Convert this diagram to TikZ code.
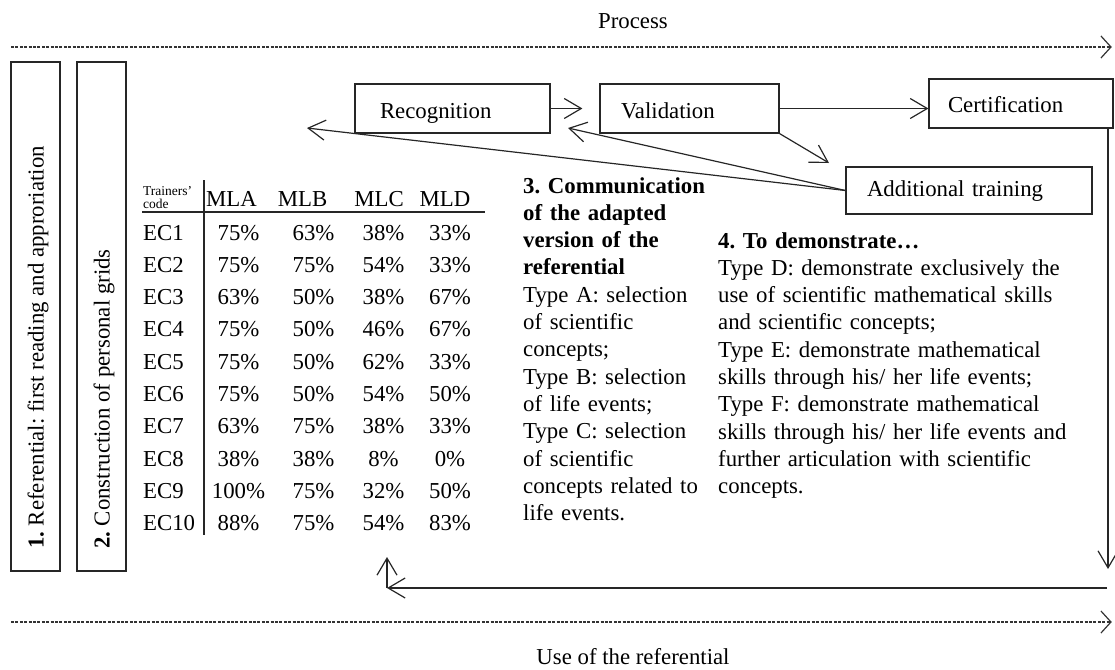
\documentclass[tikz,border=0pt]{standalone}
\usepackage{fontspec}
\setmainfont{Liberation Serif}
\usetikzlibrary{arrows.meta}
\newcommand\mainsz{\fontsize{22.8pt}{27.3pt}\selectfont}
\newcommand\tinysz{\fontsize{13.5pt}{13pt}\selectfont}
\frenchspacing
\begin{document}
\frenchspacing
\begin{tikzpicture}[x=1pt,y=-1pt,
  every node/.style={font=\mainsz, text=black},
  box/.style={draw=black!85, line width=1.2pt, align=left, inner ysep=0pt, text depth=5pt},
  vbox/.style={draw=black!85, line width=1.2pt, inner sep=0pt, minimum width=49pt, minimum height=509pt},
  vtext/.style={rotate=90, anchor=west, inner sep=0pt},
  arr/.style={line width=1.2pt, draw=black!85, -{Straight Barb[length=17pt,width=20pt,line width=1.2pt]}},
  darr/.style={line width=1.2pt, draw=black!80, dash pattern=on 3pt off 1.4pt, -{Straight Barb[length=10pt,width=22pt,line width=1.2pt,sep]}},
  rule/.style={line width=2.5pt, draw=black!85},
  cell/.style={anchor=base, inner sep=0pt},
  para/.style={anchor=base west, inner sep=0pt, align=left}
]
\useasboundingbox (0,0) rectangle (1115,669);

% titles
\node[cell] (proc) at (633,29) {Process};
\node[cell] (use) at (633,664) {Use of the referential};

% dashed process lines
\coordinate (p1) at (11,47);
\coordinate (p2) at (1113,47);
\coordinate (q1) at (11,622);
\coordinate (q2) at (1113,622);
\draw[darr] (p1) -- (p2);
\draw[darr] (q1) -- (q2);

% vertical boxes
\node[vbox] (b1) at (35.5,316.5) {};
\node[vbox] (b2) at (101.5,316.5) {};
\node[vtext] (t1) at (38,549) {\textbf{1.} Referential: first reading and approriation};
\node[vtext] (t2) at (104,549) {\textbf{2.} Construction of personal grids};

% top boxes
\node[box, text width=145pt, inner xsep=25pt, minimum height=49pt, text height=25pt] (rec) at (452.5,108.5) {Recognition};
\node[box, text width=137pt, inner xsep=21pt, minimum height=49pt, text height=25pt] (val) at (689.5,108.5) {Validation};
\node[box, text width=146pt, inner xsep=19pt, minimum height=49pt, text height=22pt] (cert) at (1021,103.5) {Certification};
\node[box, text width=204pt, inner xsep=21pt, minimum height=47pt, text height=16pt] (add) at (969,190.5) {Additional training};

% arrows between boxes
\coordinate (vd) at (829,163);
\coordinate (lt1) at (307,128);
\coordinate (lt2) at (568,128);
\draw[arr] (rec.east) -- ([xshift=-17pt]val.west);
\draw[arr] (val.east) -- (val.east -| cert.west);
\draw[arr] (val.south east) -- (vd);
\draw[arr] (add.west) -- (lt1);
\draw[arr] (add.west) -- (lt2);

% return loop
\coordinate (rd) at (1108,569);
\coordinate (hr) at (1107,588);
\coordinate (hl) at (387,588);
\coordinate (up) at (387,557);
\draw[arr] (cert.south -| rd) -- (rd);
\draw[arr] (hr) -- (hl);
\draw[arr] (hl) -- (up);

% table
\node[para, font=\tinysz, text width=60pt] (tc) at (143,195) {Trainers’\\code};
\foreach \n/\x in {MLA/231.5, MLB/302.5, MLC/379, MLD/445}
  \node[cell] (h\n) at (\x,206) {\n};
\draw[rule] (142,212) -- (485,212);
\draw[rule] (204,180) -- (204,535);
\foreach \r/\a/\b/\c/\d [count=\i from 0] in
  {1/75/63/38/33, 2/75/75/54/33, 3/63/50/38/67, 4/75/50/46/67, 5/75/50/62/33,
   6/75/50/54/50, 7/63/75/38/33, 8/38/38/8/0, 9/100/75/32/50, 10/88/75/54/83}
{
  \node[anchor=base west, inner sep=0pt] (ec\r) at ({143},{240+\i*32.3}) {EC\r};
  \node[cell] (ca\r) at ({238.5},{240+\i*32.3}) {\a\%};
  \node[cell] (cb\r) at ({313.5},{240+\i*32.3}) {\b\%};
  \node[cell] (cc\r) at ({383.5},{240+\i*32.3}) {\c\%};
  \node[cell] (cd\r) at ({450},{240+\i*32.3}) {\d\%};
}

% text columns
\node[para, text width=220pt] (col3) at (523,193) {\frenchspacing\textbf{3. Communication}\\
\textbf{of the adapted}\\
\textbf{version of the}\\
\textbf{referential}\\
Type A: selection\\
of scientific\\
concepts;\\
Type B: selection\\
of life events;\\
Type C: selection\\
of scientific\\
concepts related to\\
life events.};
\node[para, text width=395pt] (col4) at (718,248) {\frenchspacing\textbf{4. To demonstrate…}\\
Type D: demonstrate exclusively the\\
use of scientific mathematical skills\\
and scientific concepts;\\
Type E: demonstrate mathematical\\
skills through his/ her life events;\\
Type F: demonstrate mathematical\\
skills through his/ her life events and\\
further articulation with scientific\\
concepts.};
\end{tikzpicture}
\end{document}
